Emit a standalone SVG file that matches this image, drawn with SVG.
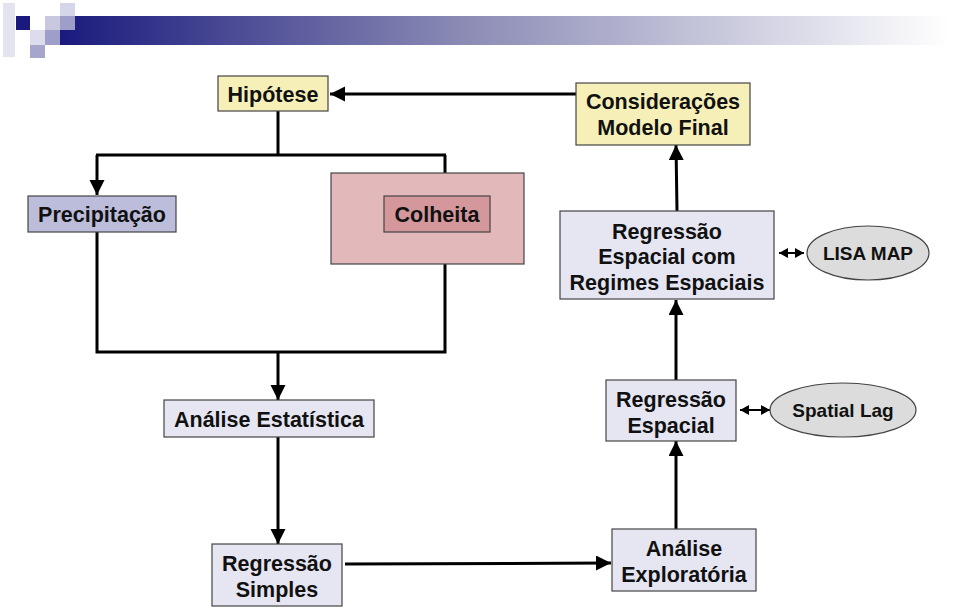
<svg xmlns="http://www.w3.org/2000/svg" width="960" height="611" viewBox="0 0 960 611">
<defs>
<linearGradient id="bar" x1="60" y1="0" x2="950" y2="0" gradientUnits="userSpaceOnUse">
<stop offset="0" stop-color="#1a1a7e"/>
<stop offset="0.45" stop-color="#8a8ab5"/>
<stop offset="1" stop-color="#ffffff"/>
</linearGradient>
<marker id="arr" markerUnits="userSpaceOnUse" markerWidth="16" markerHeight="16" refX="15" refY="7.5" orient="auto">
<path d="M0,0 L15,7.5 L0,15 z" fill="#000"/>
</marker>
<marker id="sm" markerUnits="userSpaceOnUse" markerWidth="11" markerHeight="11" refX="9" refY="5" orient="auto-start-reverse">
<path d="M0,0 L9,5 L0,10 z" fill="#000"/>
</marker>
<style>
.box{stroke:#444;stroke-width:1.2}
.t{font-family:"Liberation Sans",Arial,sans-serif;font-weight:bold;font-size:21.5px;fill:#111;text-anchor:middle}
.ts{font-family:"Liberation Sans",Arial,sans-serif;font-weight:bold;font-size:19px;fill:#111;text-anchor:middle}
.c{fill:none;stroke:#000;stroke-width:3}
.c2{fill:none;stroke:#000;stroke-width:2}
</style>
</defs>
<rect width="960" height="611" fill="#fff"/>
<g id="header">
<rect x="60" y="16" width="900" height="29" fill="url(#bar)"/>
<rect x="3" y="3" width="12" height="54" fill="#e4e4f0"/>
<rect x="16" y="16" width="14" height="14" fill="#1a1a7e"/>
<rect x="45" y="16" width="15" height="14" fill="#c8c8e0"/>
<rect x="60" y="3" width="15" height="13" fill="#d6d6ea"/>
<rect x="60" y="16" width="15" height="14" fill="#9e9ec8"/>
<rect x="30" y="30" width="15" height="15" fill="#dcdcec"/>
<rect x="45" y="30" width="15" height="15" fill="#9e9ec8"/>
<rect x="30" y="45" width="15" height="13" fill="#a6a6cc"/>
</g>
<g id="connectors">
<line class="c" x1="576" y1="94" x2="330" y2="94" marker-end="url(#arr)"/>
<polyline class="c" points="278,111 278,155"/>
<polyline class="c" points="96,155 446,155"/>
<line class="c" x1="97" y1="155" x2="97" y2="195" marker-end="url(#arr)"/>
<line class="c" x1="445" y1="155" x2="445" y2="195" marker-end="url(#arr)"/>
<polyline class="c" points="97,232 97,352 445,352 445,232"/>
<line class="c" x1="278" y1="352" x2="278" y2="400" marker-end="url(#arr)"/>
<line class="c" x1="278" y1="437" x2="278" y2="544" marker-end="url(#arr)"/>
<line class="c" x1="345" y1="564" x2="611" y2="563" marker-end="url(#arr)"/>
<line class="c" x1="676" y1="529" x2="676" y2="441" marker-end="url(#arr)"/>
<line class="c" x1="676" y1="380" x2="676" y2="300" marker-end="url(#arr)"/>
<line class="c" x1="677" y1="211" x2="676" y2="145" marker-end="url(#arr)"/>
<line class="c2" x1="779" y1="253" x2="804" y2="253" marker-start="url(#sm)" marker-end="url(#sm)"/>
<line class="c2" x1="740" y1="410" x2="770" y2="410" marker-start="url(#sm)" marker-end="url(#sm)"/>
</g>
<g id="hipotese">
<rect class="box" x="218" y="76" width="110" height="35" fill="#f6f0b8"/>
<text class="t" x="273" y="102">Hipótese</text>
</g>
<g id="consideracoes">
<rect class="box" x="576" y="83" width="174" height="62" fill="#f6f0b8"/>
<text class="t" x="663" y="109">Considerações</text>
<text class="t" x="663" y="135">Modelo Final</text>
</g>
<g id="precipitacao">
<rect class="box" x="28" y="196" width="148" height="36" fill="#bcbddb"/>
<text class="t" x="102" y="222">Precipitação</text>
</g>
<g id="colheita-grupo">
<rect class="box" x="331" y="173" width="193" height="91" fill="#e2b8bb"/>
</g>
<g id="colheita">
<rect class="box" x="384" y="196" width="106" height="36" fill="#d4979b"/>
<text class="t" x="437" y="222">Colheita</text>
</g>
<g id="analise-estatistica">
<rect class="box" x="164" y="400" width="210" height="37" fill="#e6e6f2"/>
<text class="t" x="269" y="427">Análise Estatística</text>
</g>
<g id="regressao-simples">
<rect class="box" x="212" y="544" width="130" height="62" fill="#e6e6f2"/>
<text class="t" x="277" y="571">Regressão</text>
<text class="t" x="277" y="597">Simples</text>
</g>
<g id="analise-exploratoria">
<rect class="box" x="612" y="529" width="144" height="62" fill="#e6e6f2"/>
<text class="t" x="684" y="556">Análise</text>
<text class="t" x="684" y="582">Exploratória</text>
</g>
<g id="regressao-espacial">
<rect class="box" x="606" y="380" width="130" height="61" fill="#e6e6f2"/>
<text class="t" x="671" y="407">Regressão</text>
<text class="t" x="671" y="433">Espacial</text>
</g>
<g id="regressao-regimes">
<rect class="box" x="560" y="211" width="214" height="88" fill="#e6e6f2"/>
<text class="t" x="667" y="239">Regressão</text>
<text class="t" x="667" y="264">Espacial com</text>
<text class="t" x="667" y="290">Regimes Espaciais</text>
</g>
<g id="lisa-map">
<ellipse class="box" cx="868" cy="253" rx="61" ry="27" fill="#dcdcdc"/>
<text class="ts" x="868" y="260">LISA MAP</text>
</g>
<g id="spatial-lag">
<ellipse class="box" cx="843" cy="410" rx="73" ry="27" fill="#dcdcdc"/>
<text class="ts" x="843" y="417">Spatial Lag</text>
</g>
</svg>
